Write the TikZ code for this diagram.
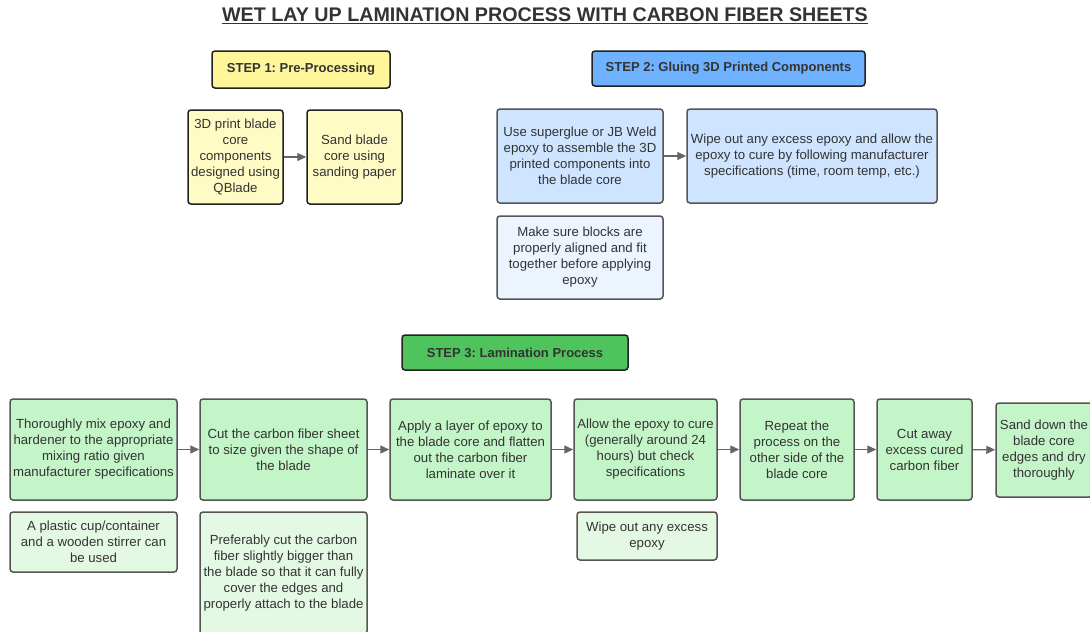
\documentclass[tikz,border=0pt]{standalone}
\usepackage{fontspec}
\setmainfont{Liberation Sans}
\usetikzlibrary{arrows.meta}
\frenchspacing
\definecolor{txt}{HTML}{333333}
\definecolor{edge}{HTML}{555555}
\definecolor{hdredge}{HTML}{222222}
\definecolor{yhead}{HTML}{FFF59A}
\definecolor{ybox}{HTML}{FFFBC4}
\definecolor{bhead}{HTML}{6EB1FF}
\definecolor{bbox}{HTML}{CFE4FF}
\definecolor{blight}{HTML}{EBF4FF}
\definecolor{ghead}{HTML}{4FC45C}
\definecolor{gbox}{HTML}{C4F5C8}
\definecolor{glight}{HTML}{E4F9E4}
\definecolor{arr}{HTML}{666666}
\tikzset{
  box/.style={draw=edge, line width=1.5pt, rounded corners=3pt, align=center,
    inner sep=0pt, text=txt, font=\fontsize{13.2}{16}\selectfont},
  head/.style={draw=hdredge, line width=1.5pt, rounded corners=3pt, align=center,
    inner sep=0pt, text=txt, font=\fontsize{13}{16}\selectfont\bfseries},
  conn/.style={draw=arr, line width=1.3pt, -{Triangle[length=9pt,width=8pt]}}
}
\begin{document}
\begin{tikzpicture}[x=1pt,y=-1pt]
\useasboundingbox (0,0) rectangle (1090,632);
\clip (0,0) rectangle (1090,632);
\fill[white] (0,0) rectangle (1090,632);

% title
\node[text=txt, font=\fontsize{19.7}{23}\selectfont\bfseries] (title) at (545,16)
  {\underline{WET LAY UP LAMINATION PROCESS WITH CARBON FIBER SHEETS}};

% STEP 1
\node[head, fill=yhead, minimum width=178pt, minimum height=37pt] (h1) at (301,69.5) {STEP 1: Pre-Processing};
\node[box, draw=hdredge, fill=ybox, minimum width=95pt, minimum height=94pt] (a1) at (235.5,157)
  {3D print blade\\core\\components\\designed using\\QBlade};
\node[box, draw=hdredge, fill=ybox, minimum width=95pt, minimum height=94pt] (a2) at (354.5,157)
  {Sand blade\\core using\\sanding paper};
\draw[conn] (a1) -- (a2);

% STEP 2
\node[head, fill=bhead, minimum width=273pt, minimum height=35pt] (h2) at (728.5,68.5) {STEP 2: Gluing 3D Printed Components};
\node[box, fill=bbox, minimum width=166pt, minimum height=94pt] (c1) at (580,156)
  {Use superglue or JB Weld\\epoxy to assemble the 3D\\printed components into\\the blade core};
\node[box, fill=bbox, minimum width=250pt, minimum height=94pt] (c2) at (812,156)
  {Wipe out any excess epoxy and allow the\\epoxy to cure by following manufacturer\\specifications (time, room temp, etc.)};
\node[box, fill=blight, minimum width=166pt, minimum height=83pt] (c3) at (580,257.5)
  {Make sure blocks are\\properly aligned and fit\\together before applying\\epoxy};
\draw[conn] (c1) -- (c2);

% STEP 3
\node[head, fill=ghead, minimum width=226pt, minimum height=35pt] (h3) at (515,352.5) {STEP 3: Lamination Process};

\node[box, fill=gbox, minimum width=167pt, minimum height=101pt] (g1) at (93.5,449.5)
  {Thoroughly mix epoxy and\\hardener to the appropriate\\mixing ratio given\\manufacturer specifications};
\node[box, fill=gbox, minimum width=167pt, minimum height=101pt] (g2) at (283.5,449.5)
  {Cut the carbon fiber sheet\\to size given the shape of\\the blade};
\node[box, fill=gbox, minimum width=161pt, minimum height=101pt] (g3) at (470.5,449.5)
  {Apply a layer of epoxy to\\the blade core and flatten\\out the carbon fiber\\laminate over it};
\node[box, fill=gbox, minimum width=143pt, minimum height=101pt] (g4) at (645.5,449.5)
  {Allow the epoxy to cure\\(generally around 24\\hours) but check\\specifications};
\node[box, fill=gbox, minimum width=114pt, minimum height=101pt] (g5) at (797,449.5)
  {Repeat the\\process on the\\other side of the\\blade core};
\node[box, fill=gbox, minimum width=95pt, minimum height=101pt] (g6) at (924.5,449.5)
  {Cut away\\excess cured\\carbon fiber};
\node[box, fill=gbox, minimum width=96pt, minimum height=94pt] (g7) at (1044,450)
  {Sand down the\\blade core\\edges and dry\\thoroughly};
\draw[conn] (g1) -- (g2);
\draw[conn] (g2) -- (g3);
\draw[conn] (g3) -- (g4);
\draw[conn] (g4) -- (g5);
\draw[conn] (g5) -- (g6);
\draw[conn] (g6) -- (g7);

\node[box, fill=glight, minimum width=167pt, minimum height=60pt] (s1) at (93.5,542)
  {A plastic cup/container\\and a wooden stirrer can\\be used};
\node[box, fill=glight, minimum width=167pt, minimum height=122pt] (s2) at (283.5,573)
  {Preferably cut the carbon\\fiber slightly bigger than\\the blade so that it can fully\\cover the edges and\\properly attach to the blade};
\node[box, fill=glight, minimum width=140pt, minimum height=48pt] (s4) at (647,536)
  {Wipe out any excess\\epoxy};
\end{tikzpicture}
\end{document}
